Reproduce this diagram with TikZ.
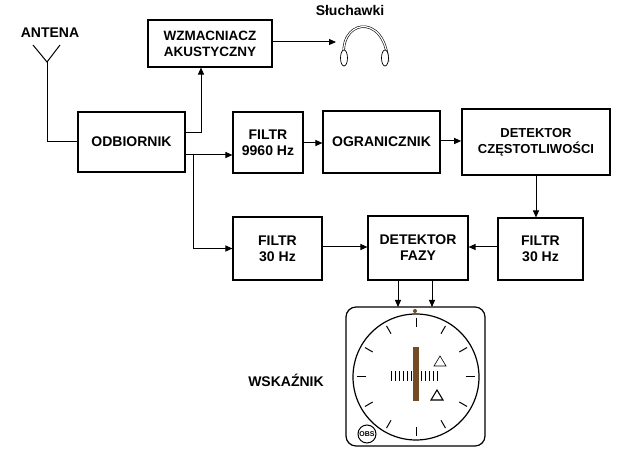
\documentclass[tikz,border=0pt]{standalone}
\usepackage{fontspec}
\setmainfont{Liberation Sans}
\usetikzlibrary{arrows.meta}
\begin{document}
\begin{tikzpicture}[x=1pt,y=-1pt,
  box/.style={draw,line width=1.1pt,font=\bfseries\fontsize{14}{16}\selectfont,align=center,inner sep=0pt},
  ar/.style={line width=1pt,-{Triangle[length=7pt,width=6pt]}},
  ln/.style={line width=1pt}]
\useasboundingbox (0,0) rectangle (641,457);
\node[box,minimum width=107pt,minimum height=60pt] (odb) at (131.5,142) {ODBIORNIK};
\node[box,minimum width=124pt,minimum height=47pt,font=\bfseries\fontsize{13.5}{16}\selectfont] (wzm) at (210,43.5) {WZMACNIACZ\\AKUSTYCZNY};
\node[box,minimum width=70pt,minimum height=61pt] (f99) at (268,142.5) {FILTR\\9960 Hz};
\node[box,minimum width=117pt,minimum height=62pt] (ogr) at (381.5,142) {OGRANICZNIK};
\node[box,line width=1.6pt,minimum width=148pt,minimum height=66pt,font=\bfseries\fontsize{13}{16}\selectfont] (det) at (536,142) {DETEKTOR\\CZĘSTOTLIWOŚCI};
\node[box,minimum width=85pt,minimum height=62pt] (fr) at (540.5,249) {FILTR\\30 Hz};
\node[box,minimum width=100pt,minimum height=64pt] (faz) at (418,248) {DETEKTOR\\FAZY};
\node[box,minimum width=89pt,minimum height=63pt] (fl) at (277.5,248.5) {FILTR\\30 Hz};
\node[font=\bfseries\fontsize{14}{16}\selectfont] (ant) at (50,33) {ANTENA};
\node[font=\bfseries\fontsize{14}{16}\selectfont] (slu) at (350,10) {Słuchawki};
\node[font=\bfseries\fontsize{14}{16}\selectfont] (wsk) at (286,380) {WSKAŹNIK};
% antenna
\coordinate (apex) at (47,62);
\draw[ln] (33,45) -- (apex) -- (60,45);
\draw[ln] (apex) -- (47,142) -- (odb.west);
% connections
\draw[ar] (odb.east |- 0,133) -| (wzm.south -| 201,0);
\draw[ar] (odb.east |- 0,155) -- (f99.west |- 0,155);
\draw[ar] (193,155) |- (fl.west);
\draw[ar] (f99.east |- 0,143) -- (ogr.west |- 0,143);
\draw[ar] (ogr.east |- 0,141) -- (det.west |- 0,141);
\draw[ar] (det.south) -- (fr.north -| det.south);
\draw[ar] (fr.west |- 0,247) -- (faz.east |- 0,247);
\draw[ar] (fl.east |- 0,247) -- (faz.west |- 0,247);
\coordinate (hp) at (336,42);
\draw[ar] (wzm.east |- 0,42) -- (hp);
% headphones
\draw[line width=0.6pt,double=white,double distance=1.2pt] (345,62) .. controls (335,20) and (385,10) .. (388,62);
\draw[line width=0.7pt,fill=white] (344,58) ellipse (3.5pt and 8pt);
\draw[line width=0.7pt,fill=white] (385,58) ellipse (3.5pt and 8pt);
% indicator
\draw[line width=1.2pt,rounded corners=10pt] (346,307) rectangle (485,446);
\coordinate (c) at (416,377);
\draw[line width=1.2pt] (c) circle (63);
\foreach \a in {0,30,...,330} \draw[line width=1pt] (c) ++(\a:50) -- ++(\a:9);
\fill[brown!60!black] (413,347) rectangle (419,401);
\foreach \x in {391,395,...,411,421,425,...,437} \draw[line width=0.8pt] (\x,371) -- (\x,381);
\draw[line width=0.6pt] (440,356) -- (446,366) -- (434,366) -- cycle;
\draw[line width=1.1pt] (437,390) -- (443,400) -- (431,400) -- cycle;
\fill[brown!60!black] (415,311) circle (2);
\draw[line width=1pt] (367,434) circle (9);
\node[font=\bfseries\fontsize{7}{8}\selectfont] (obs) at (367,434) {OBS};
\coordinate (i1) at (398,307); \coordinate (i2) at (432,307);
\draw[ar] (faz.south -| i1) -- (i1);
\draw[ar] (faz.south -| i2) -- (i2);
\end{tikzpicture}
\end{document}
